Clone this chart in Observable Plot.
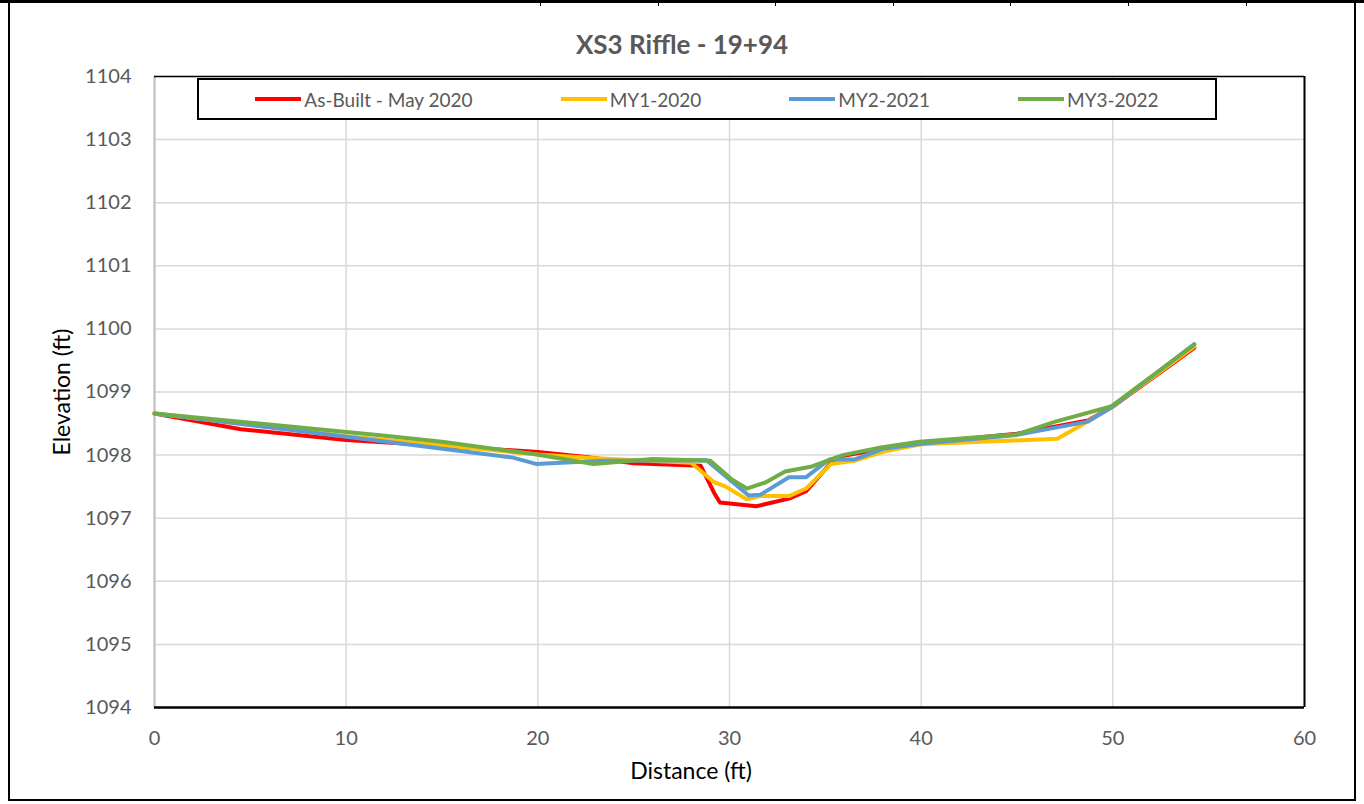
<!DOCTYPE html>
<html>
<head>
<meta charset="utf-8">
<script src="https://cdn.jsdelivr.net/npm/d3@7"></script>
<script src="https://cdn.jsdelivr.net/npm/@observablehq/plot@0.6"></script>
<style>
  html, body { margin: 0; padding: 0; background: #fff; }
  #wrap { position: relative; width: 1364px; height: 804px; overflow: hidden; font-family: Lato, "Open Sans", sans-serif; }
  #topbar { position: absolute; left: 0; top: 0; width: 1364px; height: 3px; background: #000; }
  .tick { position: absolute; top: 0; width: 1px; height: 6px; background: #000; }
  #frame { position: absolute; left: 8px; top: 0; width: 1344px; height: 796px; border: 2px solid #000; border-top: 3px solid #000; }
  #title { position: absolute; left: 8px; width: 1348px; top: 28px; text-align: center; font-weight: bold; font-size: 26px; color: #595959; }
  #chart { position: absolute; left: 0; top: 60px; }
  #legend { position: absolute; left: 197px; top: 78px; width: 1016px; height: 38px; border: 2px solid #000; background: #fff;
            display: flex; align-items: center; justify-content: center; gap: 88px; font-size: 19px; color: #595959; }
  .li { display: flex; align-items: center; }
  .sw { width: 46px; height: 4px; margin-right: 3px; }
  #ylab { position: absolute; left: 61px; top: 392px; transform: translate(-50%, -50%) rotate(-90deg); font-size: 23px; color: #000; white-space: nowrap; }
  #xlab { position: absolute; left: 691px; top: 770px; transform: translate(-50%, -50%); font-size: 23px; color: #000; white-space: nowrap; }
</style>
</head>
<body>
<div id="wrap">
  <div id="frame"></div>
  <div id="topbar"></div>
  <div id="title"></div>
  <div id="chart"></div>
  <div id="legend"></div>
  <div id="ylab"></div>
  <div id="xlab"></div>
</div>
<script>
const titleText = "XS3 Riffle - 19+94";
const xLabel = "Distance (ft)";
const yLabel = "Elevation (ft)";
const xTicks = [0, 10, 20, 30, 40, 50, 60];
const yTicks = [1094, 1095, 1096, 1097, 1098, 1099, 1100, 1101, 1102, 1103, 1104];

const seriesNames = ["As-Built - May 2020", "MY1-2020", "MY2-2021", "MY3-2022"];
const seriesColors = ["#FF0000", "#FFC000", "#5B9BD5", "#70AD47"];

const asBuiltX = [0, 4.5, 10.0, 12.6, 20.0, 22.5, 25.0, 28.5, 29.2, 29.5, 31.4, 33.1, 34.0, 35.3, 35.8, 38.0, 40.0, 45.0, 48.7, 50.0, 54.25];
const asBuiltY = [1098.66, 1098.41, 1098.24, 1098.19, 1098.05, 1097.97, 1097.87, 1097.83, 1097.40, 1097.25, 1097.19, 1097.31, 1097.43, 1097.88, 1097.98, 1098.10, 1098.19, 1098.34, 1098.55, 1098.77, 1099.70];

const my1X = [0, 10.0, 20.0, 23.0, 28.0, 29.2, 29.8, 30.9, 31.6, 33.1, 34.0, 35.3, 36.5, 38.1, 40.0, 47.1, 48.4, 50.0, 54.25];
const my1Y = [1098.66, 1098.30, 1098.01, 1097.95, 1097.88, 1097.57, 1097.50, 1097.30, 1097.35, 1097.35, 1097.47, 1097.86, 1097.91, 1098.06, 1098.17, 1098.26, 1098.48, 1098.77, 1099.72];

const my2X = [0, 10.0, 12.95, 18.7, 19.9, 23.4, 28.8, 31.0, 31.6, 33.1, 34.0, 35.2, 36.5, 38.0, 40.0, 45.0, 48.7, 50.0, 54.25];
const my2Y = [1098.66, 1098.29, 1098.18, 1097.96, 1097.86, 1097.91, 1097.92, 1097.36, 1097.37, 1097.65, 1097.65, 1097.93, 1097.93, 1098.10, 1098.18, 1098.32, 1098.53, 1098.77, 1099.76];

const my3X = [0, 11.9, 15.0, 19.7, 22.9, 26.0, 29.0, 30.1, 30.9, 31.9, 32.9, 34.3, 35.9, 37.9, 39.9, 45.0, 47.0, 49.9, 54.25];
const my3Y = [1098.66, 1098.31, 1098.21, 1098.02, 1097.86, 1097.94, 1097.91, 1097.62, 1097.47, 1097.57, 1097.74, 1097.82, 1098.00, 1098.12, 1098.21, 1098.33, 1098.53, 1098.77, 1099.75];

const allX = [asBuiltX, my1X, my2X, my3X];
const allY = [asBuiltY, my1Y, my2Y, my3Y];

// decorative top-bar ticks (spreadsheet cell borders)
const cellEdges = [540, 658, 775, 893, 1010, 1128, 1246];
const wrap = document.getElementById("wrap");
cellEdges.forEach(x => { const t = document.createElement("div"); t.className = "tick"; t.style.left = x + "px"; wrap.appendChild(t); });

document.getElementById("title").textContent = titleText;
document.getElementById("xlab").textContent = xLabel;
document.getElementById("ylab").textContent = yLabel;

const legend = document.getElementById("legend");
seriesNames.forEach((n, i) => {
  const li = document.createElement("div"); li.className = "li";
  const sw = document.createElement("div"); sw.className = "sw"; sw.style.background = seriesColors[i];
  const tx = document.createElement("span"); tx.textContent = n;
  li.appendChild(sw); li.appendChild(tx); legend.appendChild(li);
});

const lineMarks = seriesNames.map((n, i) =>
  Plot.line(allX[i].map((x, j) => ({x, y: allY[i][j], series: n})),
    {x: "x", y: "y", stroke: seriesColors[i], strokeWidth: 4, strokeLinejoin: "round", strokeLinecap: "round"}));

const chart = Plot.plot({
  width: 1364,
  height: 740,
  marginLeft: 154,
  marginRight: 60,
  marginTop: 16,
  marginBottom: 93,
  style: {fontFamily: "Lato, 'Open Sans', sans-serif", fontSize: "20px", color: "#595959", background: "transparent"},
  x: {domain: [0, 60], ticks: xTicks, tickSize: 0, tickPadding: 23, label: null},
  y: {domain: [1094, 1104], ticks: yTicks, tickSize: 0, tickPadding: 23, label: null, tickFormat: d => String(d)},
  marks: [
    Plot.gridX(xTicks, {stroke: "#d9d9d9", strokeOpacity: 1, strokeWidth: 1.5}),
    Plot.gridY(yTicks, {stroke: "#d9d9d9", strokeOpacity: 1, strokeWidth: 1.5}),
    Plot.ruleX([0], {stroke: "#bfbfbf", strokeWidth: 2}),
    Plot.ruleX([60], {stroke: "#000", strokeWidth: 2}),
    Plot.ruleY([1104], {stroke: "#000", strokeWidth: 1.5}),
    Plot.ruleY([1094], {stroke: "#000", strokeWidth: 2.5}),
    ...lineMarks
  ]
});
document.getElementById("chart").appendChild(chart);
</script>
</body>
</html>
